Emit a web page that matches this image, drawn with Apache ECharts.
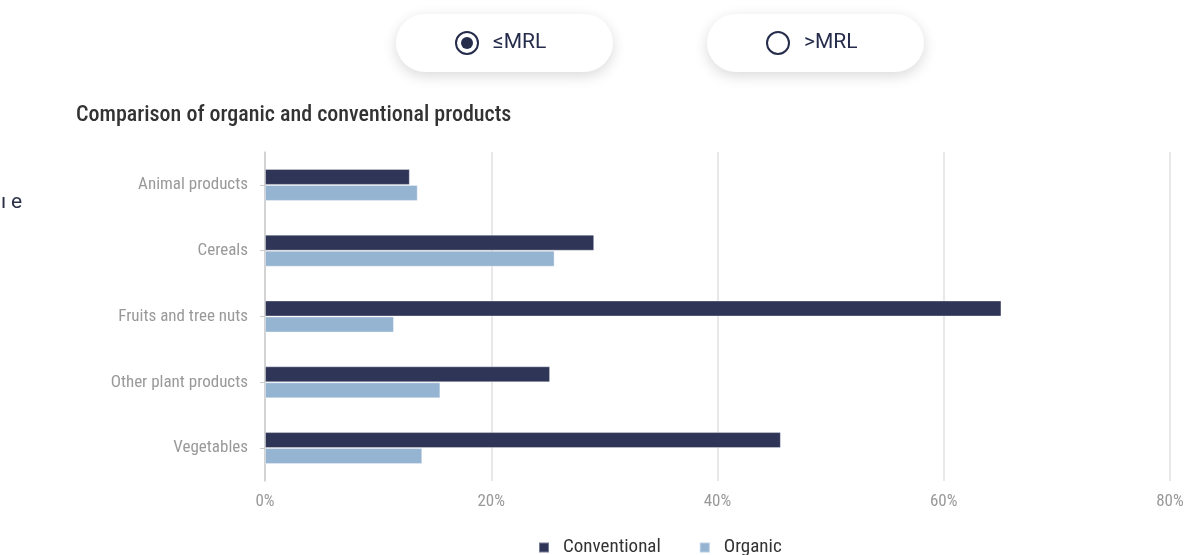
<!DOCTYPE html>
<html><head><meta charset="utf-8">
<script src="https://cdn.jsdelivr.net/npm/echarts@6/dist/echarts.min.js"></script>
<style>html,body{margin:0;padding:0;background:#fff}#c{width:1190px;height:555px}</style>
</head><body><div id="c"></div>
<script>
const categories = ['Animal products','Cereals','Fruits and tree nuts','Other plant products','Vegetables'];
const conventional = [12.8, 29.1, 65.1, 25.2, 45.6];
const organic = [13.5, 25.6, 11.4, 15.5, 13.9];
const xTicks = [0, 20, 40, 60, 80];
const FONT = "'Roboto Condensed','Liberation Sans Narrow','DejaVu Sans Condensed',Roboto,sans-serif";

const chart = echarts.init(document.getElementById('c'), null, {renderer:'canvas'});
function pill(x, label, checked){
  const els = [
    {type:'rect', shape:{x:x, y:14, width:217, height:58, r:29},
     style:{fill:'#fff', shadowBlur:14, shadowOffsetY:4, shadowColor:'rgba(0,0,0,0.15)'}},
    {type:'circle', shape:{cx:x+71, cy:43, r:11}, style:{fill:'#fff', stroke:'#262c4c', lineWidth:2}},
    {type:'text', style:{x:x+97, y:43, text:label, fill:'#262c4c', font:"21px Roboto, sans-serif", verticalAlign:'middle'}}
  ];
  if (checked) els.push({type:'circle', shape:{cx:x+71, cy:43, r:6}, style:{fill:'#262c4c'}});
  return els;
}
chart.setOption({
  animation:false,
  title:{text:'Comparison of organic and conventional products', left:76, top:104, padding:0,
    textStyle:{fontFamily:FONT, fontSize:22, fontWeight:500, color:'#333'}},
  graphic:[].concat(pill(396,'≤MRL',true), pill(707,'>MRL',false), [
    {type:'text', style:{x:1, y:203, text:'ı', fill:'#2a2f45', font:"21px Roboto, sans-serif", verticalAlign:'middle'}},
    {type:'text', style:{x:11, y:203, text:'e', fill:'#2a2f45', font:"21px Roboto, sans-serif", verticalAlign:'middle'}}
  ]),
  legend:{left:538, top:538, padding:0, itemWidth:10, itemHeight:10, itemGap:38, icon:'rect',
    textStyle:{fontFamily:FONT, fontSize:19, color:'#333', padding:[0,0,0,9]},
    data:['Conventional','Organic']},
  grid:{left:265, right:20, top:152, height:329, containLabel:false},
  xAxis:{type:'value', min:0, max:80, interval:20,
    axisLabel:{formatter:v=>v+'%', color:'#999', fontFamily:FONT, fontSize:17, margin:12},
    splitLine:{show:true, lineStyle:{color:'#e0e0e0', width:1.5}},
    axisLine:{show:false}, axisTick:{show:false}},
  yAxis:{type:'category', data:categories, inverse:true,
    axisLabel:{color:'#999', fontFamily:FONT, fontSize:17, margin:17},
    axisLine:{show:true, lineStyle:{color:'#ccc', width:1.5}},
    axisTick:{show:true, length:5, alignWithLabel:true, lineStyle:{color:'#ccc'}}},
  series:[
    {name:'Conventional', type:'bar', data:conventional, barWidth:16, barGap:'0%',
     itemStyle:{color:'#2e3557', borderColor:'rgba(255,255,255,0.35)', borderWidth:1}},
    {name:'Organic', type:'bar', data:organic, barWidth:16, barGap:'0%',
     itemStyle:{color:'#95b4d1', borderColor:'rgba(255,255,255,0.35)', borderWidth:1}}
  ]
});
</script></body></html>
